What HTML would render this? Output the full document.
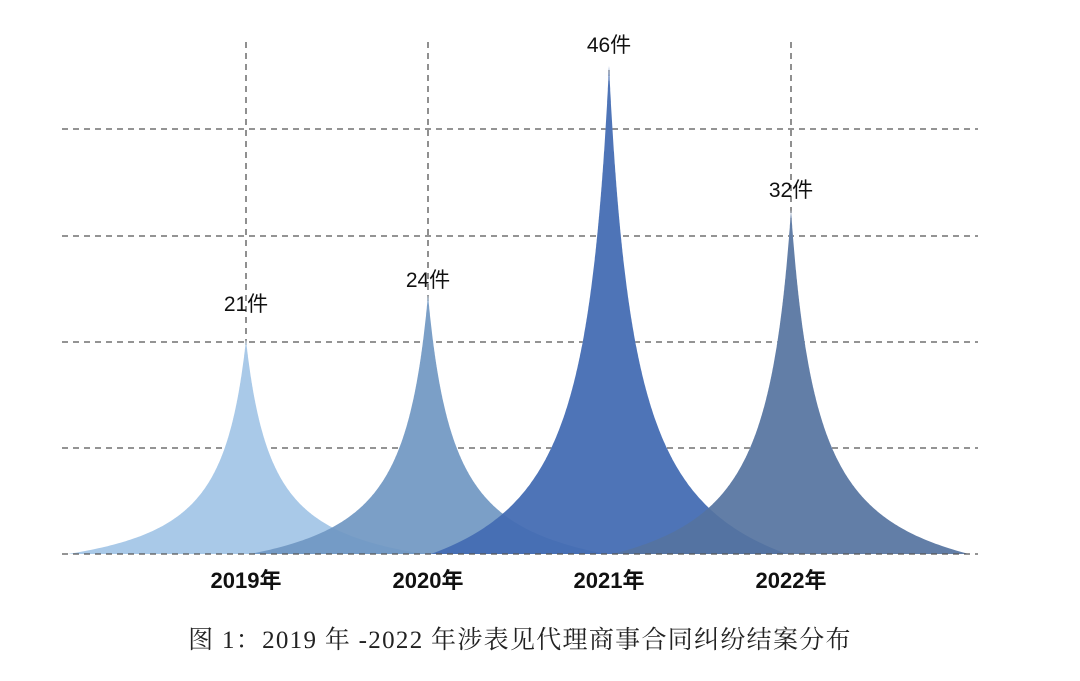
<!DOCTYPE html>
<html><head><meta charset="utf-8"><style>
body{margin:0;background:#fff;width:1080px;height:681px;overflow:hidden}
svg{display:block}
</style></head><body>
<svg id="s" width="1080" height="681" viewBox="0 0 1080 681" xmlns="http://www.w3.org/2000/svg">
<g stroke="#555" stroke-width="1.3" stroke-dasharray="6,5">
<line x1="62" y1="129" x2="978" y2="129"/>
<line x1="62" y1="236" x2="978" y2="236"/>
<line x1="62" y1="342" x2="978" y2="342"/>
<line x1="62" y1="448" x2="978" y2="448"/>
<line x1="246" y1="42" x2="246" y2="554"/>
<line x1="428" y1="42" x2="428" y2="554"/>
<line x1="609" y1="70" x2="609" y2="554"/>
<line x1="791" y1="42" x2="791" y2="554"/>
</g>
<g id="white"></g>
<g id="spikes"></g>
<line x1="62" y1="554" x2="978" y2="554" stroke="#555" stroke-width="1.3" stroke-dasharray="6,5"/>
<g font-family="Liberation Sans, Noto Sans CJK SC, sans-serif" font-size="21" fill="#111" text-anchor="middle">
<text x="246" y="311">21件</text>
<text x="428" y="287">24件</text>
<text x="609" y="52">46件</text>
<text x="791" y="197">32件</text>
</g>
<g font-family="Liberation Sans, Noto Sans CJK SC, sans-serif" font-size="22" font-weight="bold" fill="#111" text-anchor="middle">
<text x="246" y="588">2019年</text>
<text x="428" y="588">2020年</text>
<text x="609" y="588">2021年</text>
<text x="791" y="588">2022年</text>
</g>
<text x="520" y="648" text-anchor="middle" font-family="Liberation Serif, Noto Serif CJK SC, serif" font-size="25" letter-spacing="1.3" fill="#222">图 1：2019 年 -2022 年涉表见代理商事合同纠纷结案分布</text>
</svg>
<script>
function dx(f){var g=(1-f)/(1+6.5*f);return g;}
var base=554,w=178;
var data=[[246,340,"#a9c9e8",1],[428,295,"#7097c2",0.92],[609,66,"#456db3",0.95],[791,210,"#55739f",0.92]];
var gw=document.getElementById("white"),g=document.getElementById("spikes"),ns="http://www.w3.org/2000/svg";
data.forEach(function(d){var cx=d[0],H=base-d[1],L=[],R=[];
for(var i=0;i<=300;i++){var f=i/300,x=dx(f)*w,y=base-f*H;L.push((cx-x).toFixed(1)+","+y.toFixed(1));R.unshift((cx+x).toFixed(1)+","+y.toFixed(1));}
var pts=L.concat(R).join(" ");
var q=document.createElementNS(ns,"polygon");q.setAttribute("points",pts);q.setAttribute("fill","#fff");gw.appendChild(q);
var p=document.createElementNS(ns,"polygon");p.setAttribute("points",pts);p.setAttribute("fill",d[2]);p.setAttribute("opacity",d[3]);g.appendChild(p);});
</script>
</body></html>
